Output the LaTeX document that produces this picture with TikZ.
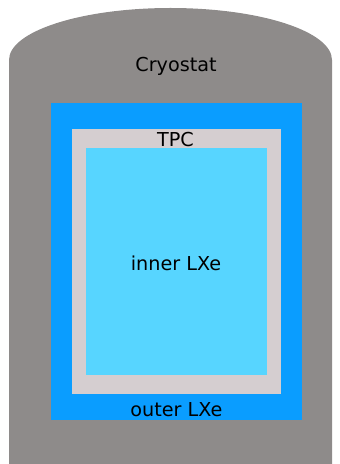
\documentclass[tikz,border=0pt]{standalone}
\usepackage{fontspec}
\setmainfont{DejaVu Sans}
\usetikzlibrary{positioning}
\definecolor{cryogray}{RGB}{142,139,138}
\definecolor{outerblue}{RGB}{10,157,255}
\definecolor{tpcgray}{RGB}{213,206,208}
\definecolor{innerblue}{RGB}{87,213,255}
\begin{document}
\begin{tikzpicture}[x=1pt,y=1pt,
    lbl/.style={font=\fontsize{19.2}{23}\selectfont,text=black,anchor=base,inner sep=0pt}]
  \useasboundingbox (0,0) rectangle (340,464);
  % cryostat vessel
  \fill[cryogray] (9,0) -- (9,404) arc[start angle=180,end angle=0,
        x radius=161.5,y radius=52] -- (332,0) -- cycle;
  \fill[outerblue] (51,44) rectangle (302,361);
  \fill[tpcgray] (72,70) rectangle (281,335);
  \fill[innerblue] (86,89) rectangle (267,316);
  % labels
  \node[lbl] (cryolabel) at (176,392.5) {Cryostat};
  \node[lbl] (tpclabel) at (175.5,317.5) {TPC};
  \node[lbl] (innerlabel) at (176,193.5) {inner LXe};
  \node[lbl] (outerlabel) at (176.5,47.5) {outer LXe};
\end{tikzpicture}
\end{document}
